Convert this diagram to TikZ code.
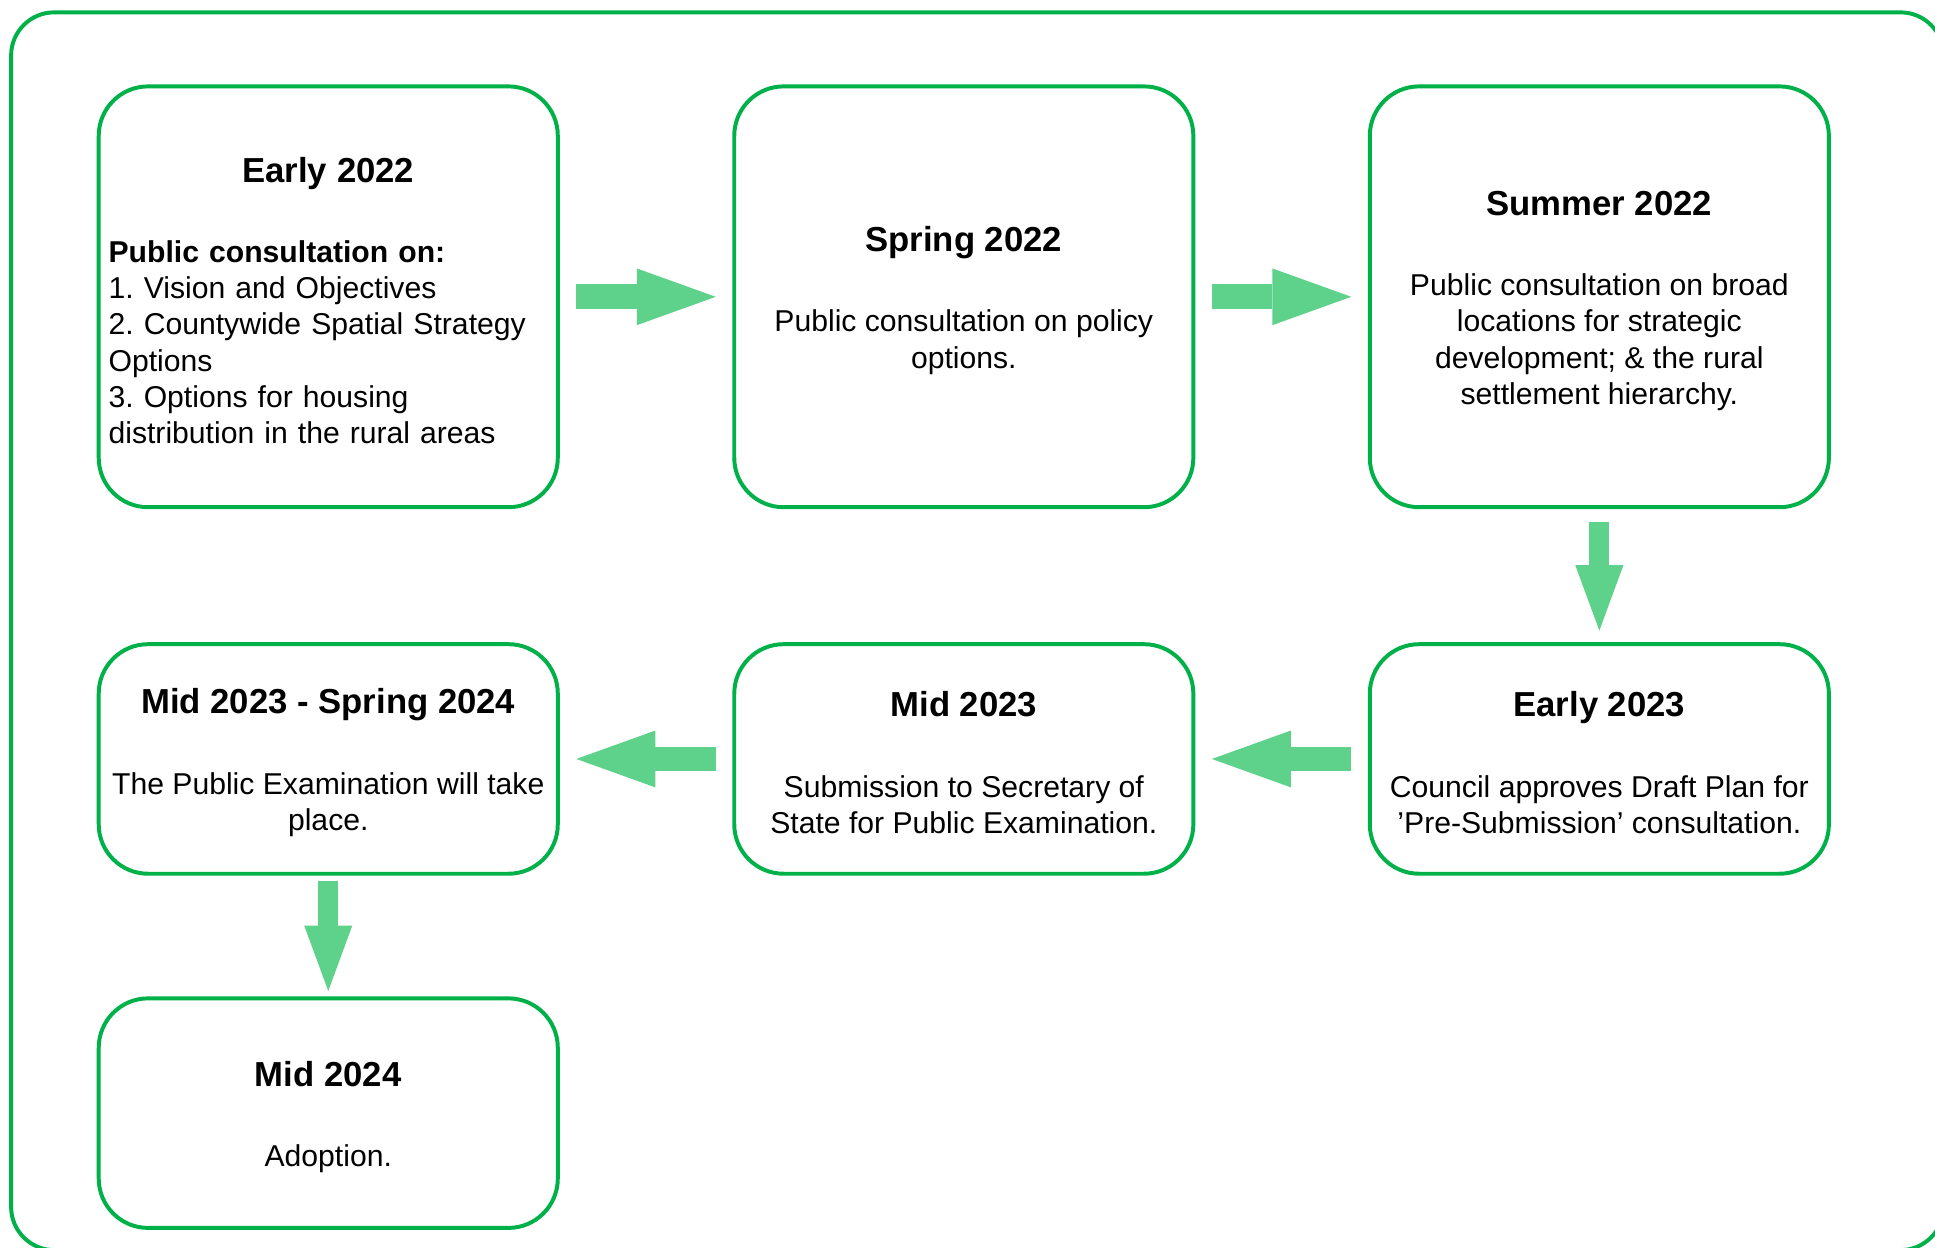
\documentclass[tikz,border=0pt]{standalone}
\usepackage{fontspec}
\setmainfont{Liberation Sans}
\usepackage{tikz}
\usetikzlibrary{arrows.meta, positioning}
\frenchspacing
\definecolor{boxgreen}{RGB}{0,176,72}
\definecolor{arrowgreen}{RGB}{94,209,139}
\newcommand{\stagetitle}[1]{{\fontsize{16}{19}\selectfont\bfseries\rule{0pt}{15pt}#1}}
\tikzset{
	stage/.style={draw=boxgreen, line width=0.64mm, fill=white, rounded corners=8mm,
		minimum width=74.4mm, inner xsep=1.6mm, outer sep=0pt, align=center,
		font=\fontsize{13.9}{16.7}\selectfont},
	rowone/.style={minimum height=68.2mm},
	rowtwo/.style={minimum height=37.2mm},
	flow/.style={draw=arrowgreen, line width=4mm,
		-{Triangle[length=12.8mm, width=9.2mm, line width=0pt]},
		shorten <=3mm, shorten >=3mm},
	drop/.style={draw=arrowgreen, line width=3.2mm,
		-{Triangle[length=10.6mm, width=7.8mm, line width=0pt]}}
}

\begin{document}
\begin{tikzpicture}[x=0.2mm, y=-0.2mm]
	\useasboundingbox (0,0) rectangle (1568,1011);
	\clip (0,0) rectangle (1568,1011);
	% Outer frame
	\draw[boxgreen, line width=0.64mm, rounded corners=7mm] (9,10) rectangle (1575,1013);

	% Top row
	\node[stage, rowone, text width=71.2mm, align=left] (early22) at (266,240.5)
		{\makebox[\hsize]{\stagetitle{Early 2022}}\\[20.3pt]
		\textbf{Public consultation on:}\\
		1. Vision and Objectives\\
		2. Countywide Spatial Strategy\\
		Options\\
		3. Options for housing\\
		distribution in the rural areas};
	\node[stage, rowone] (spring22) at (781,240.5)
		{\stagetitle{Spring 2022}\\[20.3pt]
		Public consultation on policy\\
		options.};
	\node[stage, rowone] (summer22) at (1296,240.5)
		{\stagetitle{Summer 2022}\\[20.3pt]
		Public consultation on broad\\
		locations for strategic\\
		development; \& the rural\\
		settlement hierarchy.};

	% Second row
	\node[stage, rowtwo] (early23) at (1296,615)
		{\stagetitle{Early 2023}\\[20.3pt]
		Council approves Draft Plan for\\
		'Pre-Submission' consultation.};
	\node[stage, rowtwo] (mid23) at (781,615)
		{\stagetitle{Mid 2023}\\[20.3pt]
		Submission to Secretary of\\
		State for Public Examination.};
	\node[stage, rowtwo] (exam) at (266,615)
		{\stagetitle{Mid 2023 - Spring 2024}\\[20.3pt]
		The Public Examination will take\\
		place.};

	% Last stage
	\node[stage, rowtwo] (mid24) at (266,902)
		{\stagetitle{Mid 2024}\\[20.3pt]
		Adoption.};

	\draw[flow] (early22.east) -- (spring22.west);
	\draw[flow] (spring22.east) -- (summer22.west);
	\draw[drop, shorten <=2.4mm, shorten >=2.2mm] (summer22.south) -- (early23.north);
	\draw[flow] (early23.west) -- (mid23.east);
	\draw[flow] (mid23.west) -- (exam.east);
	\draw[drop, shorten <=1.2mm, shorten >=1.2mm] (exam.south) -- (mid24.north);
\end{tikzpicture}
\end{document}
